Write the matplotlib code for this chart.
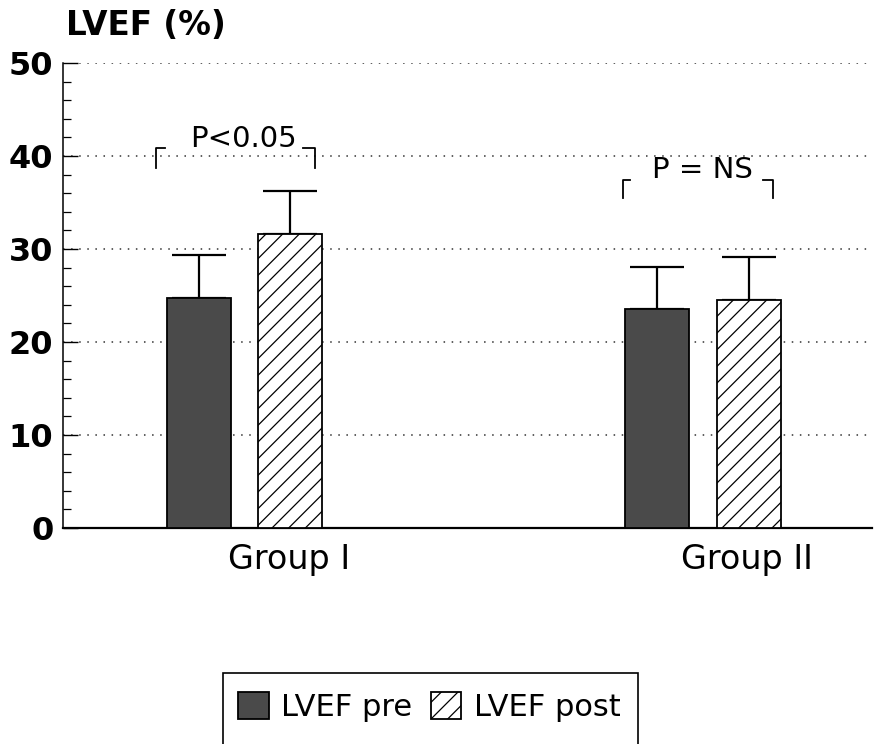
import numpy as np
import matplotlib
matplotlib.use("Agg")
import matplotlib.pyplot as plt
from matplotlib.patches import Rectangle

# ---- data ----
groups = ["Group I", "Group II"]
series_names = ["LVEF pre", "LVEF post"]
lvef_pre = [24.7, 23.5]
lvef_pre_err = [4.7, 4.6]
lvef_post = [31.6, 24.5]
lvef_post_err = [4.6, 4.6]
yticks = [0, 10, 20, 30, 40, 50]
p_labels = ["P<0.05", "P = NS"]

plt.rcParams["font.family"] = ["DejaVu Sans"]
plt.rcParams["hatch.linewidth"] = 0.9

W, H = 879, 744
fig = plt.figure(figsize=(W / 100, H / 100), dpi=100)
ax = fig.add_axes([63 / W, 1 - 528 / H, (872 - 63) / W, (528 - 63) / H])

x = np.arange(len(groups))
off = 0.1
bw = 0.14

b1 = ax.bar(x - off, lvef_pre, width=bw, color="#4a4a4a", edgecolor="black",
            linewidth=1.3, label=series_names[0], zorder=3)
b2 = ax.bar(x + off, lvef_post, width=bw, color="white", edgecolor="black",
            linewidth=1.3, hatch="//", label=series_names[1], zorder=3)

ax.errorbar(x - off, lvef_pre, yerr=[np.zeros(len(x)), lvef_pre_err], fmt="none",
            ecolor="black", elinewidth=1.6, capsize=19.5, capthick=1.6, zorder=2)
ax.errorbar(x + off, lvef_post, yerr=[np.zeros(len(x)), lvef_post_err], fmt="none",
            ecolor="black", elinewidth=1.6, capsize=19.5, capthick=1.6, zorder=2)

ax.set_xlim(-0.396, 1.3686)
ax.set_ylim(0, 50)
ax.set_yticks(yticks)
ax.set_yticks(np.arange(0, 51, 2), minor=True)
ax.tick_params(axis="y", which="major", direction="in", length=11, width=1.0,
               pad=7, labelsize=23)
ax.tick_params(axis="y", which="minor", direction="in", length=6, width=0.9)
for lab in ax.get_yticklabels():
    lab.set_fontweight("bold")

ax.set_xticks(x + 0.096)
ax.set_xticklabels(groups, fontsize=24)
ax.tick_params(axis="x", length=0, pad=11)

for s in ["top", "right"]:
    ax.spines[s].set_visible(False)
ax.spines["left"].set_linewidth(1.1)
ax.spines["bottom"].set_linewidth(1.6)

ax.set_axisbelow(True)
ax.yaxis.grid(True, which="major", linestyle=(0, (1, 4.3)), linewidth=1.1, color="#333333")

# significance brackets
ax.plot([-0.193, -0.193, -0.173], [38.7, 40.9, 40.9], color="black", lw=1.3, clip_on=False)
ax.plot([0.128, 0.154, 0.154], [40.9, 40.9, 38.7], color="black", lw=1.3, clip_on=False)
ax.text(-0.003, 41.0, p_labels[0], ha="center", va="baseline", fontsize=21)

ax.plot([0.8255, 0.8255, 0.8415], [35.5, 37.4, 37.4], color="black", lw=1.3, clip_on=False)
ax.plot([1.131, 1.153, 1.153], [37.4, 37.4, 35.5], color="black", lw=1.3, clip_on=False)
ax.text(0.998, 37.6, p_labels[1], ha="center", va="baseline", fontsize=21)

fig.text(66 / W, 1 - 35 / H, "LVEF (%)", fontsize=23.5, fontweight="bold",
         ha="left", va="baseline")

fig.legend(handles=[b1, b2], labels=series_names, loc="center left",
           bbox_to_anchor=(238 / W, 1 - 707 / H), ncol=2, frameon=False,
           borderpad=0, borderaxespad=0, handlelength=1.0, handleheight=1.0,
           handletextpad=0.4, columnspacing=0.62, fontsize=22)
fig.add_artist(Rectangle((223 / W, -0.05), (638 - 223) / W, (1 - 673 / H) + 0.05,
                         transform=fig.transFigure, fill=False, edgecolor="black",
                         linewidth=1.2, clip_on=False))

fig.savefig("out.png", dpi=100)
